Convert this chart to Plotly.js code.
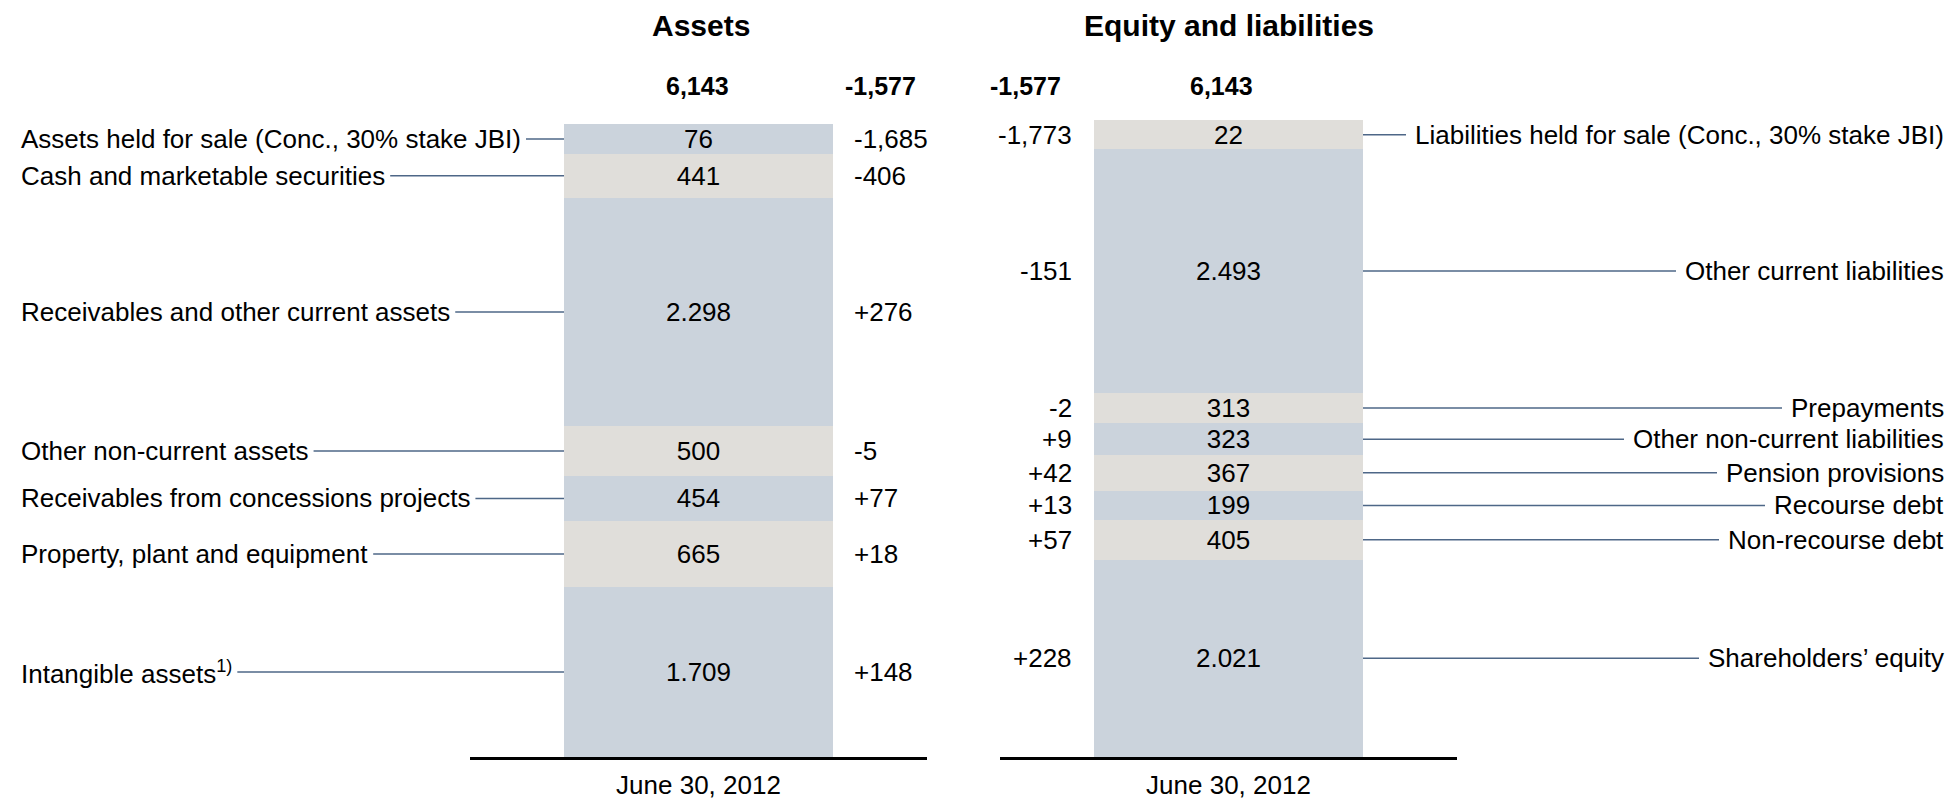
<!DOCTYPE html>
<html>
<head>
<meta charset="utf-8">
<script src="https://cdn.plot.ly/plotly-3.0.1.min.js"></script>
<style>
  html, body { margin: 0; padding: 0; background: #ffffff; }
  #chart { width: 1951px; height: 801px; }
</style>
</head>
<body>
<div id="chart"></div>
<script>
// ---------------- DATA (top of stack first) ----------------
const periodLabel = 'June 30, 2012';
const totalLabel = '6,143';
const totalChangeLabel = '-1,577';

const assetItems = [
  'Assets held for sale (Conc., 30% stake JBI)',
  'Cash and marketable securities',
  'Receivables and other current assets',
  'Other non-current assets',
  'Receivables from concessions projects',
  'Property, plant and equipment',
  'Intangible assets<sup>1)</sup>'
];
const assetValues = [76, 441, 2298, 500, 454, 665, 1709];
const assetChanges = ['-1,685', '-406', '+276', '-5', '+77', '+18', '+148'];

const liabItems = [
  'Liabilities held for sale (Conc., 30% stake JBI)',
  'Other current liabilities',
  'Prepayments',
  'Other non-current liabilities',
  'Pension provisions',
  'Recourse debt',
  'Non-recourse debt',
  'Shareholders\u2019 equity'
];
const liabValues = [22, 2493, 313, 323, 367, 199, 405, 2021];
const liabChanges = ['-1,773', '-151', '-2', '+9', '+42', '+13', '+57', '+228'];

// ---------------- STYLE ----------------
const W = 1951, H = 801;
const FONT = 'Liberation Sans, Arial, Helvetica, sans-serif';
const BLUE = '#CBD3DC';
const BEIGE = '#E0DEDA';
const CONNECTOR = '#4E6787';
// small segments are drawn with a minimum visible height (as in the original slide)
const MIN_SEGMENT = 300;

const px = p => p / W;
const py = p => 1 - p / H;

// German-style thousands separator inside the bars (e.g. 2.298)
function fmtInside(v) {
  if (v >= 1000) {
    const th = Math.floor(v / 1000);
    const rest = String(v % 1000).padStart(3, '0');
    return th + '.' + rest;
  }
  return String(v);
}

function buildPanel(items, values, xa, ya) {
  const traces = [];
  const n = values.length;
  let cum = 0;
  const midByIndex = new Array(n);
  for (let k = n - 1; k >= 0; k--) {
    const drawn = Math.max(values[k], MIN_SEGMENT);
    const colorIdx = (n - 1 - k);
    traces.push({
      type: 'bar',
      x: [periodLabel],
      y: [drawn],
      xaxis: xa, yaxis: ya,
      width: 0.5886,
      marker: { color: colorIdx % 2 === 0 ? BLUE : BEIGE, line: { width: 0 } },
      text: [fmtInside(values[k])],
      textposition: 'inside',
      insidetextanchor: 'middle',
      constraintext: 'none',
      textangle: 0,
      textfont: { family: FONT, size: 26, color: '#000000' },
      hoverinfo: 'skip',
      showlegend: false,
      name: items[k]
    });
    midByIndex[k] = cum + drawn / 2;
    cum += drawn;
  }
  return { traces, mids: midByIndex, total: cum };
}

const left = buildPanel(assetItems, assetValues, 'x', 'y');
const right = buildPanel(liabItems, liabValues, 'x2', 'y2');

const annotations = [];
const baseAnn = { showarrow: false, font: { family: FONT, size: 26, color: '#000000' } };

// titles
annotations.push(Object.assign({}, baseAnn, { text: '<b>Assets</b>', xref: 'paper', yref: 'paper', x: px(701), y: py(26), xanchor: 'center', yanchor: 'middle', font: { family: FONT, size: 30, color: '#000' } }));
annotations.push(Object.assign({}, baseAnn, { text: '<b>Equity and liabilities</b>', xref: 'paper', yref: 'paper', x: px(1229), y: py(26), xanchor: 'center', yanchor: 'middle', font: { family: FONT, size: 30, color: '#000' } }));

// header totals
const hdrFont = { family: FONT, size: 25, color: '#000' };
annotations.push(Object.assign({}, baseAnn, { text: '<b>' + totalLabel + '</b>', xref: 'paper', yref: 'paper', x: px(697), y: py(86), xanchor: 'center', yanchor: 'middle', font: hdrFont }));
annotations.push(Object.assign({}, baseAnn, { text: '<b>' + totalChangeLabel + '</b>', xref: 'paper', yref: 'paper', x: px(843), y: py(86), xanchor: 'left', yanchor: 'middle', font: hdrFont }));
annotations.push(Object.assign({}, baseAnn, { text: '<b>' + totalChangeLabel + '</b>', xref: 'paper', yref: 'paper', x: px(1063), y: py(86), xanchor: 'right', yanchor: 'middle', font: hdrFont }));
annotations.push(Object.assign({}, baseAnn, { text: '<b>' + totalLabel + '</b>', xref: 'paper', yref: 'paper', x: px(1221), y: py(86), xanchor: 'center', yanchor: 'middle', font: hdrFont }));

const leftLabelIdx = [], rightLabelIdx = [];
assetItems.forEach((lab, i) => {
  leftLabelIdx.push(annotations.length);
  annotations.push(Object.assign({}, baseAnn, { text: lab, xref: 'paper', yref: 'y', x: px(19), y: left.mids[i], xanchor: 'left', yanchor: 'middle' }));
  annotations.push(Object.assign({}, baseAnn, { text: assetChanges[i], xref: 'paper', yref: 'y', x: px(852), y: left.mids[i], xanchor: 'left', yanchor: 'middle' }));
});
liabItems.forEach((lab, i) => {
  rightLabelIdx.push(annotations.length);
  annotations.push(Object.assign({}, baseAnn, { text: lab, xref: 'paper', yref: 'y2', x: px(1946), y: right.mids[i], xanchor: 'right', yanchor: 'middle' }));
  annotations.push(Object.assign({}, baseAnn, { text: liabChanges[i], xref: 'paper', yref: 'y2', x: px(1074), y: right.mids[i], xanchor: 'right', yanchor: 'middle' }));
});

const xCommon = {
  type: 'category', range: [-0.5, 0.5], fixedrange: true,
  showline: true, linecolor: '#000000', linewidth: 3,
  ticks: '', showgrid: false, zeroline: false,
  tickfont: { family: FONT, size: 26, color: '#000000' },
  ticklabelstandoff: 3
};
const yCommon = { visible: false, showgrid: false, zeroline: false, fixedrange: true };

const layout = {
  width: W, height: H,
  margin: { l: 0, r: 0, t: 0, b: 0, pad: 0 },
  paper_bgcolor: '#ffffff', plot_bgcolor: 'rgba(0,0,0,0)',
  barmode: 'stack', bargap: 0,
  showlegend: false,
  hovermode: false,
  font: { family: FONT, size: 26, color: '#000' },
  xaxis: Object.assign({}, xCommon, { domain: [px(470), px(927)], anchor: 'y' }),
  yaxis: Object.assign({}, yCommon, { domain: [py(757), py(124)], range: [0, left.total], anchor: 'x' }),
  xaxis2: Object.assign({}, xCommon, { domain: [px(1000), px(1457)], anchor: 'y2' }),
  yaxis2: Object.assign({}, yCommon, { domain: [py(757), py(120)], range: [0, right.total], anchor: 'x2' }),
  annotations: annotations
};

const gd = document.getElementById('chart');
Plotly.newPlot(gd, left.traces.concat(right.traces), layout, { staticPlot: true, displayModeBar: false }).then(() => {
  // connector lines between the labels and the bars
  const root = gd.getBoundingClientRect();
  function textBox(idx) {
    const g = gd.querySelector('g.annotation[data-index="' + idx + '"] text');
    if (!g) return null;
    const r = g.getBoundingClientRect();
    return { left: r.left - root.left, right: r.right - root.left };
  }
  const shapes = [];
  const barLeft = 564, barRight = 1363;
  assetItems.forEach((lab, i) => {
    const b = textBox(leftLabelIdx[i]);
    const x0 = b ? b.right + 5 : 400;
    shapes.push({ type: 'line', xref: 'paper', yref: 'y', x0: px(x0), x1: px(barLeft), y0: left.mids[i], y1: left.mids[i], line: { color: CONNECTOR, width: 1.5 } });
  });
  liabItems.forEach((lab, i) => {
    const b = textBox(rightLabelIdx[i]);
    const x1 = b ? b.left - 9 : 1600;
    shapes.push({ type: 'line', xref: 'paper', yref: 'y2', x0: px(barRight), x1: px(x1), y0: right.mids[i], y1: right.mids[i], line: { color: CONNECTOR, width: 1.5 } });
  });
  return Plotly.relayout(gd, { shapes: shapes });
});
</script>
</body>
</html>
